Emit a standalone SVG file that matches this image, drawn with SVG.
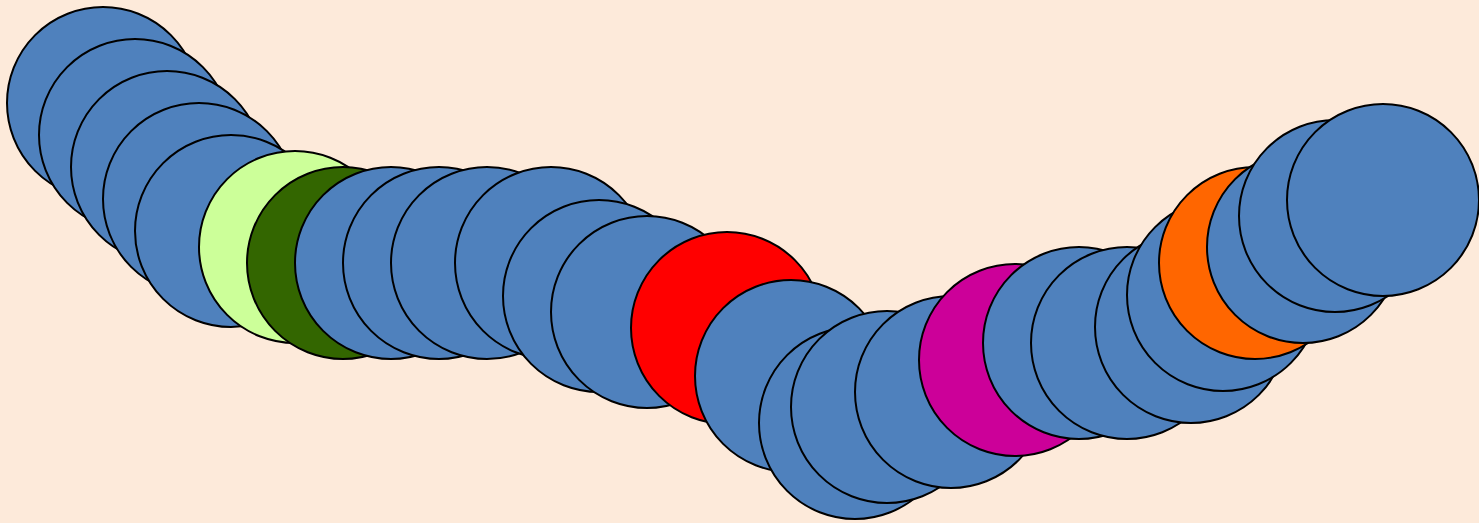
<svg xmlns="http://www.w3.org/2000/svg" width="1479" height="523" viewBox="0 0 1479 523">
<style>
circle{stroke:#000;stroke-width:2;}
.b{fill:#4F81BD;}
.lg{fill:#CCFF99;}
.dg{fill:#336600;}
.r{fill:#FF0000;}
.m{fill:#CC0099;}
.o{fill:#FF6600;}
</style>
<rect width="1479" height="523" fill="#FDEADA"/>
<g id="connectors"></g>
<g id="n1"><circle class="b" cx="103" cy="103" r="96"/></g>
<g id="n2"><circle class="b" cx="135" cy="135" r="96"/></g>
<g id="n3"><circle class="b" cx="167" cy="167" r="96"/></g>
<g id="n4"><circle class="b" cx="199" cy="199" r="96"/></g>
<g id="n5"><circle class="b" cx="231" cy="231" r="96"/></g>
<g id="n6"><circle class="lg" cx="295" cy="247" r="96"/></g>
<g id="n7"><circle class="dg" cx="343" cy="263" r="96"/></g>
<g id="n8"><circle class="b" cx="391" cy="263" r="96"/></g>
<g id="n9"><circle class="b" cx="439" cy="263" r="96"/></g>
<g id="n10"><circle class="b" cx="487" cy="263" r="96"/></g>
<g id="n11"><circle class="b" cx="551" cy="263" r="96"/></g>
<g id="n12"><circle class="b" cx="599" cy="296" r="96"/></g>
<g id="n13"><circle class="b" cx="647" cy="312" r="96"/></g>
<g id="n14"><circle class="r" cx="727" cy="328" r="96"/></g>
<g id="n15"><circle class="b" cx="791" cy="376" r="96"/></g>
<g id="n16"><circle class="b" cx="855" cy="423" r="96"/></g>
<g id="n17"><circle class="b" cx="887" cy="407" r="96"/></g>
<g id="n18"><circle class="b" cx="951" cy="392" r="96"/></g>
<g id="n19"><circle class="m" cx="1015" cy="360" r="96"/></g>
<g id="n20"><circle class="b" cx="1079" cy="343" r="96"/></g>
<g id="n21"><circle class="b" cx="1127" cy="343" r="96"/></g>
<g id="n22"><circle class="b" cx="1191" cy="327" r="96"/></g>
<g id="n23"><circle class="b" cx="1223" cy="295" r="96"/></g>
<g id="n24"><circle class="o" cx="1255" cy="263" r="96"/></g>
<g id="n25"><circle class="b" cx="1303" cy="247" r="96"/></g>
<g id="n26"><circle class="b" cx="1335" cy="216" r="96"/></g>
<g id="n27"><circle class="b" cx="1383" cy="200" r="96"/></g>
</svg>
